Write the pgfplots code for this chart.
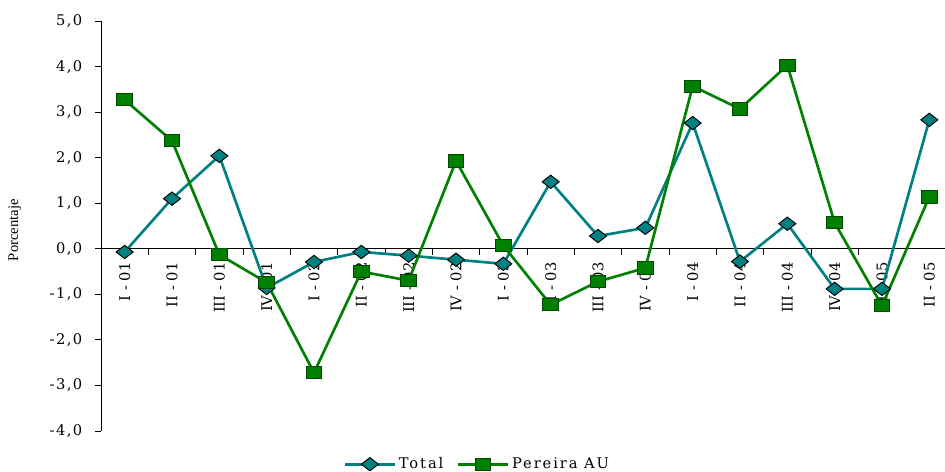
\documentclass[border=0pt]{standalone}
\usepackage{pgfplots}
\pgfplotsset{compat=1.18}
\usepackage{fontspec}
\setmainfont{DejaVu Serif}
\newfontfamily\tickfont[LetterSpace=10]{DejaVu Serif}
\newfontfamily\legfont[LetterSpace=13]{DejaVu Serif}
\newfontfamily\labfont{Liberation Serif}
\definecolor{tealc}{RGB}{0,128,128}
\definecolor{greenc}{RGB}{0,128,0}
\definecolor{darkg}{RGB}{0,70,0}
\begin{document}
\begin{tikzpicture}
\begin{axis}[
  scale only axis, width=639pt, height=307.5pt,
  xmin=-0.5, xmax=17.5, ymin=-4, ymax=5,
  axis x line=middle, axis y line=left,
  axis line style={-, black, line width=0.6pt},
  xtick={-0.5,0.5,...,17.5}, xticklabels={},
  xtick align=outside, ytick align=outside,
  major tick length=4.5pt,
  tick style={black, line width=0.6pt},
  extra x ticks={0,1,...,17},
  extra x tick labels={I - 01,II - 01,III - 01,IV - 01,I - 02,II - 02,III - 02,IV - 02,I - 03,II - 03,III - 03,IV - 03,I - 04,II - 04,III - 04,IV - 04,I - 05,II - 05},
  extra x tick style={major tick length=0pt, tick style={draw=none},
    ticklabel style={rotate=90, anchor=east, xshift=-6.75pt, font=\fontsize{11}{12}\selectfont}},
  ytick={-4,-3,...,5},
  yticklabel style={xshift=-6pt, font=\tickfont\fontsize{11}{12}\selectfont, /pgf/number format/.cd, fixed, fixed zerofill, precision=1, use comma, assume math mode=true},
  ylabel={Porcentaje},
  ylabel style={at={(axis description cs:-0.101,0.49)}, anchor=center, rotate=0, font=\labfont\fontsize{11}{12}\selectfont},
  legend style={at={(axis description cs:0.442,-0.081)}, anchor=center, draw=none, fill=none,
    legend columns=2, font=\legfont\fontsize{11}{12}\selectfont,
    /tikz/every even column/.append style={column sep=8pt}},
  legend image code/.code={%
    \draw[mark repeat=2, mark phase=2] plot coordinates {(0cm,0cm) (0.66cm,0cm) (1.32cm,0cm)};},
  clip=false,
]
\addplot[tealc, line width=2pt, mark=diamond*, mark size=5pt,
  mark options={xscale=1.7, fill=tealc, draw=black, line width=0.7pt}]
coordinates {(0,-0.07) (1,1.10) (2,2.04) (3,-0.86) (4,-0.29) (5,-0.07) (6,-0.15) (7,-0.24) (8,-0.33) (9,1.47) (10,0.28) (11,0.46) (12,2.76) (13,-0.28) (14,0.55) (15,-0.88) (16,-0.88) (17,2.83)};
\addlegendentry{Total}
\addplot[greenc, line width=2pt, mark=square*, mark size=4.6pt,
  mark options={xscale=1.27, fill=greenc, draw=darkg, line width=0.7pt}]
coordinates {(0,3.27) (1,2.37) (2,-0.13) (3,-0.74) (4,-2.72) (5,-0.50) (6,-0.70) (7,1.93) (8,0.07) (9,-1.23) (10,-0.72) (11,-0.42) (12,3.57) (13,3.07) (14,4.03) (15,0.57) (16,-1.25) (17,1.14)};
\addlegendentry{Pereira AU}
\end{axis}
\pgfresetboundingbox
\path[use as bounding box] (-75.75pt,-30pt) rectangle (633pt,323.25pt);
\end{tikzpicture}
\end{document}
